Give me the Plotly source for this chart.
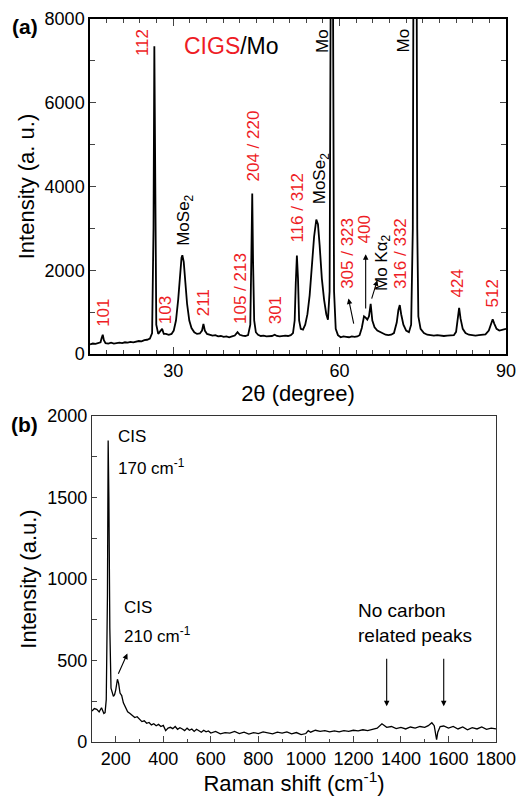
import plotly.graph_objects as go

# ---------------- data: (a) XRD ----------------
xrd_2theta = [15.0, 15.5, 16.0, 16.5, 16.9, 17.1, 17.3, 17.5, 17.8, 18.3, 18.8, 19.3, 19.8, 20.3, 20.8,
              21.3, 21.8, 22.3, 22.8, 23.3, 23.8, 24.3, 24.8, 25.3, 25.8, 26.2, 26.45, 26.6, 26.75, 26.95,
              27.3, 27.7, 28.0, 28.3, 28.7, 29.2, 29.7, 30.1, 30.5, 30.9, 31.2, 31.5, 31.65, 31.9, 32.2,
              32.5, 32.9, 33.3, 33.8, 34.3, 34.8, 35.2, 35.45, 35.7, 36.1, 36.6, 37.1, 37.6, 38.1, 38.6,
              39.1, 39.6, 40.1, 40.6, 41.1, 41.6, 42.0, 42.5, 43.0, 43.5, 43.9, 44.1, 44.25, 44.4, 44.6,
              44.9, 45.3, 45.8, 46.3, 46.8, 47.3, 47.8, 48.3, 48.7, 49.2, 49.7, 50.2, 50.7, 51.2, 51.6,
              51.9, 52.1, 52.3, 52.5, 52.7, 53.0, 53.4, 53.8, 54.2, 54.6, 55.0, 55.4, 55.8, 56.1, 56.4,
              56.8, 57.2, 57.6, 57.9, 58.2, 58.4, 58.6, 58.8, 59.0, 59.3, 59.7, 60.2, 60.7, 61.2, 61.7,
              62.2, 62.7, 63.2, 63.6, 64.0, 64.4, 64.7, 65.0, 65.3, 65.6, 65.9, 66.3, 66.8, 67.3, 67.8,
              68.3, 68.8, 69.3, 69.8, 70.3, 70.6, 70.85, 71.1, 71.5, 72.0, 72.5, 72.9, 73.2, 73.4, 73.6,
              73.8, 74.0, 74.2, 74.6, 75.2, 75.8, 76.4, 77.0, 77.6, 78.2, 78.8, 79.4, 80.0, 80.6, 81.0,
              81.3, 81.55, 81.8, 82.2, 82.7, 83.3, 83.9, 84.5, 85.1, 85.7, 86.3, 86.9, 87.3, 87.6, 87.9,
              88.3, 88.8, 89.3, 90.0]
xrd_intensity = [230, 250, 240, 260, 280, 380, 460, 330, 260, 250, 270, 250, 260, 270, 260,
                 280, 270, 290, 280, 300, 310, 300, 330, 340, 370, 500, 3000, 7350, 3000, 700,
                 480, 560, 600, 480, 480, 460, 480, 560, 800, 1300, 1900, 2300, 2360, 2200, 1700,
                 1200, 800, 620, 520, 480, 490, 560, 720, 560, 480, 460, 440, 450, 420, 430,
                 410, 420, 400, 420, 440, 520, 460, 440, 430, 450, 700, 2400, 3830, 2200, 800,
                 520, 460, 430, 440, 420, 430, 430, 460, 430, 420, 430, 440, 430, 450, 500,
                 800, 1700, 2350, 1800, 800, 600, 580, 700, 950, 1400, 2100, 2800, 3210, 3100, 2600,
                 1800, 1300, 950, 820, 1500, 9000, 20000, 9000, 1500, 600, 450, 400, 420, 410, 400,
                 420, 410, 420, 450, 620, 900, 870, 820, 900, 1200, 800, 640, 560, 520, 480,
                 460, 450, 460, 500, 750, 1050, 1170, 950, 700, 560, 520, 700, 3000, 14000, 20000,
                 14000, 3000, 900, 600, 500, 460, 450, 440, 450, 440, 430, 440, 440, 450, 530,
                 800, 1100, 850, 600, 500, 460, 450, 440, 450, 460, 470, 560, 700, 830, 720,
                 600, 560, 580, 600]

# peak labels (a): text, 2theta, intensity (label centre), colour key
xrd_labels = ["101", "112", "103", "MoSe<sub>2</sub>", "211", "105 / 213", "204 / 220", "301",
              "116 / 312", "MoSe<sub>2</sub>", "Mo", "305 / 323", "400", "Mo Kα<sub>2</sub>",
              "316 / 332", "Mo", "424", "512"]
xrd_label_x = [17.4, 24.6, 28.55, 32.2, 35.5, 42.1, 44.5, 48.4, 52.35, 56.6, 56.9, 61.4, 64.4, 67.7,
               71.0, 71.6, 81.3, 87.6]
xrd_label_y = [990, 7430, 1050, 3190, 1230, 1560, 4970, 1050, 3500, 4190, 7485, 2400, 2975, 2180,
               2400, 7485, 1680, 1440]
xrd_label_kind = ["hkl", "hkl", "hkl", "phase", "hkl", "hkl", "hkl", "hkl", "hkl", "phase", "phase",
                  "hkl", "hkl", "phase", "hkl", "phase", "hkl", "hkl"]

# ---------------- data: (b) Raman ----------------
raman_shift = [100, 110, 120, 130, 140, 150, 155, 160, 165, 168, 171, 175, 180, 190, 195, 200, 207, 212,
               218, 225, 232, 240, 250, 260, 270, 280, 290, 300, 310, 320, 330, 340, 350, 360, 370, 380,
               390, 400, 410, 420, 430, 440, 450, 460, 470, 480, 490, 500, 510, 520, 530, 540, 550, 560,
               570, 580, 590, 600, 620, 640, 660, 680, 700, 720, 740, 760, 780, 800, 820, 840, 860, 880,
               900, 920, 940, 960, 980, 1000, 1010, 1020, 1040, 1060, 1080, 1100, 1120, 1140, 1160, 1180,
               1200, 1220, 1240, 1260, 1280, 1300, 1320, 1330, 1340, 1360, 1380, 1400, 1420, 1440, 1460,
               1480, 1500, 1515, 1530, 1540, 1545, 1550, 1555, 1565, 1580, 1600, 1620, 1640, 1660, 1680,
               1700, 1720, 1740, 1760, 1780, 1800]
raman_intensity = [190, 205, 200, 185, 210, 175, 180, 260, 900, 1850, 1500, 700, 330, 280, 290, 320, 385, 360,
                   300, 285, 240, 210, 185, 175, 160, 150, 155, 140, 125, 130, 115, 120, 105, 112, 100, 108,
                   95, 102, 70, 85, 90, 82, 95, 78, 88, 80, 70, 85, 72, 80, 65, 78, 70, 60,
                   72, 62, 68, 55, 65, 50, 58, 55, 65, 52, 60, 48, 58, 52, 62, 55, 50, 60,
                   55, 62, 50, 58, 45, 52, 70, 60, 72, 65, 70, 62, 68, 62, 70, 65,
                   72, 68, 75, 70, 78, 85, 112, 100, 90, 95, 82, 90, 80, 92, 85,
                   95, 90, 100, 118, 100, 60, 15, 60, 95, 98, 85, 95, 80, 92, 75,
                   88, 80, 92, 78, 85, 80]

xrd_yticks = [0, 2000, 4000, 6000, 8000]
raman_xticks = [200, 400, 600, 800, 1000, 1200, 1400, 1600, 1800]
raman_yticks = [0, 500, 1000, 1500, 2000]

RED = "#ee1c25"
FONT = "Arial, Liberation Sans, Helvetica, sans-serif"

fig = go.Figure()
fig.add_trace(go.Scatter(x=xrd_2theta, y=xrd_intensity, mode="lines",
                         line=dict(color="black", width=1.8), xaxis="x", yaxis="y",
                         showlegend=False, hoverinfo="x+y"))
fig.add_trace(go.Scatter(x=raman_shift, y=raman_intensity, mode="lines",
                         line=dict(color="black", width=1.3), xaxis="x2", yaxis="y2",
                         showlegend=False, hoverinfo="x+y"))

ann = []
for t, x, y, k in zip(xrd_labels, xrd_label_x, xrd_label_y, xrd_label_kind):
    ann.append(dict(text=t, x=x, y=y, xref="x", yref="y", textangle=-90, showarrow=False,
                    xanchor="center", yanchor="middle",
                    font=dict(size=17, color=RED if k == "hkl" else "black", family=FONT)))

ann.append(dict(text="<span style='color:%s'>CIGS</span>/Mo" % RED, x=31.6, y=7354, xref="x", yref="y",
                xanchor="left", yanchor="middle", showarrow=False,
                font=dict(size=23, color="black", family=FONT)))

# arrows in (a)
for (x0, y0, x1, y1) in [(62.6, 690, 61.6, 1325), (64.7, 1050, 64.7, 2380), (65.7, 1285, 66.8, 1760)]:
    ann.append(dict(x=x1, y=y1, ax=x0, ay=y0, xref="x", yref="y", axref="x", ayref="y",
                    text="", showarrow=True, arrowhead=2, arrowsize=1, arrowwidth=1.1,
                    arrowcolor="black"))

# labels in (b)
ann += [
    dict(text="CIS", x=200, y=1873, xref="x2", yref="y2", xanchor="left", yanchor="middle",
         showarrow=False, font=dict(size=17, color="black", family=FONT)),
    dict(text="170 cm<sup>-1</sup>", x=200, y=1690, xref="x2", yref="y2", xanchor="left",
         yanchor="middle", showarrow=False, font=dict(size=17, color="black", family=FONT)),
    dict(text="CIS", x=228, y=827, xref="x2", yref="y2", xanchor="left", yanchor="middle",
         showarrow=False, font=dict(size=17, color="black", family=FONT)),
    dict(text="210 cm<sup>-1</sup>", x=228, y=654, xref="x2", yref="y2", xanchor="left",
         yanchor="middle", showarrow=False, font=dict(size=17, color="black", family=FONT)),
    dict(text="No carbon<br>related peaks", x=1460, y=730, xref="x2", yref="y2",
         xanchor="center", yanchor="middle", showarrow=False, align="left",
         font=dict(size=19, color="black", family=FONT)),
]
for (x0, y0, x1, y1) in [(208, 410, 249, 543), (1340, 520, 1340, 220), (1580, 520, 1580, 220)]:
    ann.append(dict(x=x1, y=y1, ax=x0, ay=y0, xref="x2", yref="y2", axref="x2", ayref="y2",
                    text="", showarrow=True, arrowhead=2, arrowsize=1, arrowwidth=1.1,
                    arrowcolor="black"))

# panel letters
ann += [
    dict(text="<b>(a)</b>", x=25 / 517, y=1 - 27 / 796, xref="paper", yref="paper",
         xanchor="center", yanchor="middle", showarrow=False,
         font=dict(size=21, color="black", family=FONT)),
    dict(text="<b>(b)</b>", x=24 / 517, y=1 - 425 / 796, xref="paper", yref="paper",
         xanchor="center", yanchor="middle", showarrow=False,
         font=dict(size=21, color="black", family=FONT)),
]

tickfont = dict(size=18, color="black", family=FONT)
titlefont = dict(size=22, color="black", family=FONT)

top_dom = [1 - 354 / 796, 1 - 19 / 796]
bot_dom = [1 - 742 / 796, 1 - 416 / 796]

fig.update_layout(
    width=517, height=796,
    margin=dict(l=0, r=0, t=0, b=0),
    paper_bgcolor="white", plot_bgcolor="white",
    showlegend=False,
    annotations=ann,
    xaxis=dict(domain=[90 / 517, 506 / 517], anchor="y", range=[15, 90],
               tickvals=[30, 60, 90], ticks="inside", ticklen=7, tickwidth=1.3,
               minor=dict(dtick=3, tick0=0, ticks="inside", ticklen=4, tickwidth=1),
               showline=True, linecolor="black", linewidth=1.5, mirror="ticks",
               showgrid=False, zeroline=False, tickfont=tickfont, automargin=False,
               title=dict(text="2θ (degree)", font=titlefont, standoff=0)),
    yaxis=dict(domain=top_dom, anchor="x", range=[0, 8000],
               tickvals=xrd_yticks, ticks="inside", ticklen=6, tickwidth=1.3,
               minor=dict(dtick=1000, ticks="inside", ticklen=5, tickwidth=1),
               showline=True, linecolor="black", linewidth=1.5, mirror="ticks",
               showgrid=False, zeroline=False, tickfont=tickfont, automargin=False,
               title=dict(text="Intensity (a. u.)", font=titlefont, standoff=4)),
    yaxis3=dict(overlaying="y", anchor="x", side="left", range=[0, 8000],
                tickvals=xrd_yticks, ticks="outside", ticklen=5, tickwidth=1.3,
                showticklabels=False, showline=False, showgrid=False, zeroline=False),
    xaxis2=dict(domain=[92 / 517, 496 / 517], anchor="y2", range=[100, 1800],
                tickvals=raman_xticks,
                ticks="inside", ticklen=6, tickwidth=1.1,
                minor=dict(dtick=100, ticks="inside", ticklen=3, tickwidth=1),
                showline=True, linecolor="#333", linewidth=1.3, mirror=True,
                showgrid=False, zeroline=False, tickfont=tickfont, automargin=False,
                title=dict(text="Raman shift (cm<sup>-1</sup>)", font=titlefont, standoff=0)),
    yaxis2=dict(domain=bot_dom, anchor="x2", range=[0, 2000],
                tickvals=raman_yticks, ticks="inside", ticklen=5, tickwidth=1.1,
                minor=dict(dtick=250, ticks="inside", ticklen=5, tickwidth=1),
                showline=True, linecolor="#333", linewidth=1.3, mirror=True,
                showgrid=False, zeroline=False, tickfont=tickfont, automargin=False,
                title=dict(text="Intensity (a.u.)", font=titlefont, standoff=4)),
    yaxis4=dict(overlaying="y2", anchor="x2", side="left", range=[0, 2000],
                tickvals=raman_yticks, ticks="outside", ticklen=5, tickwidth=1.1,
                showticklabels=False, showline=False, showgrid=False, zeroline=False),
)

fig.write_html("out.html", config={"displayModeBar": False},
               post_script="document.body.style.margin='0';document.body.style.overflow='hidden';")
